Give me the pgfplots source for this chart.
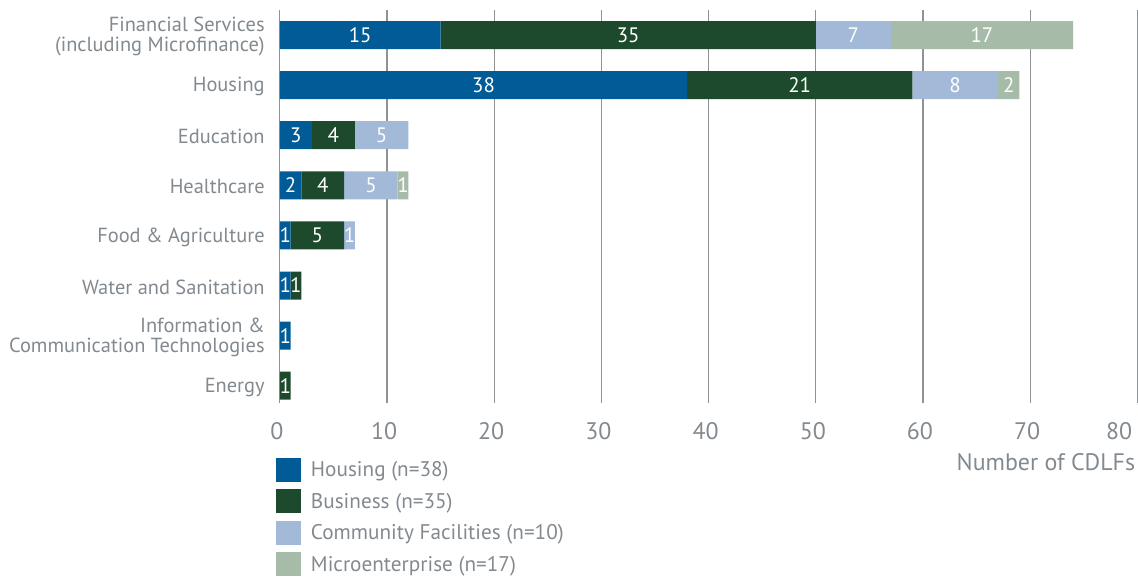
\documentclass[border=0pt]{standalone}
\usepackage{pgfplots}
\pgfplotsset{compat=1.18}
\usepackage{fontspec}
\setmainfont{PT Sans}
\definecolor{cHousing}{HTML}{005B96}
\definecolor{cBusiness}{HTML}{1D4A2C}
\definecolor{cCommunity}{HTML}{A2B9D8}
\definecolor{cMicro}{HTML}{A7BBA9}
\definecolor{txt}{HTML}{82898F}
\definecolor{gridc}{HTML}{8F9396}
\pgfplotsset{mylegend/.style={legend image code/.code={\fill[##1,draw=none] (0bp,-12bp) rectangle (25bp,12bp);}}}
\pgfkeys{/pgf/number format/assume math mode=true}
\begin{document}
\begin{tikzpicture}
\begin{axis}[
  /pgf/number format/assume math mode=true,
  scale only axis, width=858bp, height=393bp,
  xbar stacked, bar width=28bp,
  xmin=0, xmax=80, ymin=-0.34, ymax=7.5,
  xtick={0,10,...,70},
  extra x ticks={80},
  extra x tick style={grid=major, xticklabel style={anchor=north east, xshift=-2bp}},
  xmajorgrids, ymajorgrids=false,
  grid style={gridc, line width=1.3bp},
  axis line style={draw=none},
  major tick length=0pt,
  tick style={draw=none},
  ytick={0,...,7},
  yticklabels={Energy, {Information \&\\Communication Technologies}, Water and Sanitation, Food \& Agriculture, Healthcare, Education, Housing, {Financial Services\\(including Microfinance)}},
  yticklabel style={align=right, inner sep=0pt, xshift=-15bp, yshift=-1.5bp, text=txt, font=\fontsize{20.5}{20}\selectfont},
  xticklabel style={inner sep=0pt, yshift=-20bp, xshift=-3bp, text=txt, font=\fontsize{24}{24}\selectfont},
  xlabel={Number of CDLFs},
  xlabel style={at={(axis description cs:1,0)}, anchor=north east, inner sep=0pt, yshift=-51bp, xshift=-2bp, text=txt, font=\fontsize{24}{24}\selectfont},
  legend cell align=left,
  legend style={at={(-0.0047,-0.14)}, anchor=north west, draw=none, fill=none, inner sep=0pt, row sep=7.5bp, column sep=10bp, text=txt, font=\fontsize{21.3}{21.3}\selectfont, nodes={inner sep=0pt}},
  nodes near coords={\pgfmathfloatifflags{\pgfplotspointmeta}{0}{}{\pgfmathprintnumber{\pgfplotspointmeta}}},
  every node near coord/.append style={text=white, font=\fontsize{21}{21}\selectfont},
]
\addplot[fill=cHousing, draw=none, mylegend] coordinates {(0,0) (1,1) (1,2) (1,3) (2,4) (3,5) (38,6) (15,7)};
\addplot[fill=cBusiness, draw=none, mylegend] coordinates {(1,0) (0,1) (1,2) (5,3) (4,4) (4,5) (21,6) (35,7)};
\addplot[fill=cCommunity, draw=none, mylegend] coordinates {(0,0) (0,1) (0,2) (1,3) (5,4) (5,5) (8,6) (7,7)};
\addplot[fill=cMicro, draw=none, mylegend] coordinates {(0,0) (0,1) (0,2) (0,3) (1,4) (0,5) (2,6) (17,7)};
\legend{Housing (n=38), Business (n=35), Community Facilities (n=10), Microenterprise (n=17)}
\end{axis}
\path[use as bounding box] ([shift={(-280bp,-175bp)}]current axis.south west) rectangle ([shift={(0bp,10bp)}]current axis.north east);
\end{tikzpicture}
\end{document}
